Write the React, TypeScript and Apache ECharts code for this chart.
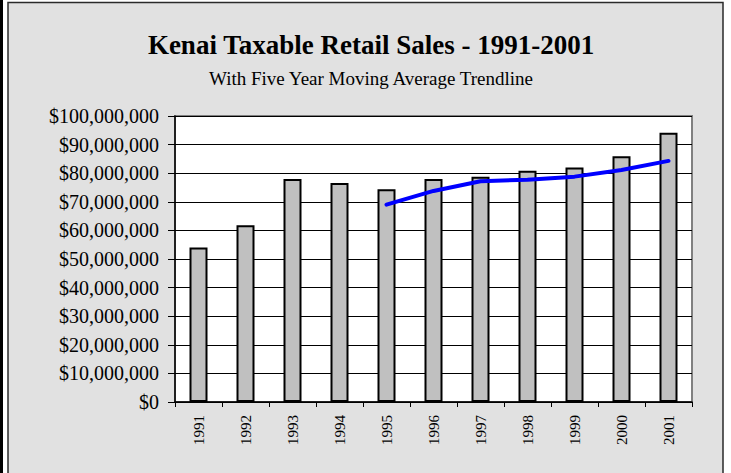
import React, { useEffect, useRef } from "react";
import * as echarts from "echarts";

const years = ["1991", "1992", "1993", "1994", "1995", "1996", "1997", "1998", "1999", "2000", "2001"];
const salesMillions = [54.0, 61.8, 78.0, 76.6, 74.4, 78.0, 78.8, 80.9, 82.0, 85.9, 94.1];
const movingAvgMillions = [null, null, null, null, 69.0, 73.8, 77.2, 77.7, 78.8, 81.1, 84.3];
const yMax = 100000000;
const yInterval = 10000000;
const titleText = "Kenai Taxable Retail Sales - 1991-2001";
const subtitleText = "With Five Year Moving Average Trendline";

const serif = "'Times New Roman', 'Liberation Serif', serif";

function fmtDollar(v: number): string {
  return "$" + Math.round(v).toString().replace(/\B(?=(\d{3})+(?!\d))/g, ",");
}

export default function App() {
  const ref = useRef<HTMLDivElement>(null);
  useEffect(() => {
    if (!ref.current) return;
    const chart = echarts.init(ref.current, null, { renderer: "svg" });
    chart.setOption({
      animation: false,
      backgroundColor: "#ffffff",
      graphic: [
        { type: "rect", z: -10, shape: { x: 0, y: 0, width: 3, height: 473 }, style: { fill: "#000000" } },
        {
          type: "rect",
          z: -10,
          shape: { x: 8, y: 2.5, width: 715, height: 480 },
          style: { fill: "#e1e1e1", stroke: "#2a2a2a", lineWidth: 1.5 },
        },
      ],
      title: [
        {
          text: titleText,
          left: 366,
          top: 26,
          textAlign: "center",
          textStyle: { fontFamily: serif, fontSize: 27, fontWeight: "bold", color: "#000" },
        },
        {
          text: subtitleText,
          left: 366,
          top: 64,
          textAlign: "center",
          textStyle: { fontFamily: serif, fontSize: 19, fontWeight: "normal", color: "#000" },
        },
      ],
      grid: {
        left: 175,
        right: 39,
        top: 116,
        bottom: 71,
        show: true,
        backgroundColor: "#ffffff",
        borderColor: "#808080",
        borderWidth: 2,
      },
      xAxis: {
        type: "category",
        data: years,
        boundaryGap: true,
        axisLine: { show: true, lineStyle: { color: "#000", width: 1.5 } },
        axisTick: { show: true, length: 5, inside: false, alignWithLabel: false, lineStyle: { color: "#000", width: 1 } },
        axisLabel: { rotate: 90, margin: 13, fontFamily: serif, fontSize: 15, color: "#000" },
        splitLine: { show: false },
      },
      yAxis: {
        type: "value",
        min: 0,
        max: yMax,
        interval: yInterval,
        axisLine: { show: true, lineStyle: { color: "#000", width: 1.5 } },
        axisTick: { show: true, length: 7, inside: false, lineStyle: { color: "#000", width: 1 } },
        axisLabel: { margin: 16, fontFamily: serif, fontSize: 20, color: "#000", formatter: (v: number) => fmtDollar(v) },
        splitLine: { show: true, lineStyle: { color: "#000", width: 1 } },
      },
      series: [
        {
          type: "bar",
          data: salesMillions.map((v) => v * 1e6),
          barWidth: 18,
          itemStyle: { color: "#c0c0c0", borderColor: "#000", borderWidth: 2 },
          z: 2,
        },
        {
          type: "line",
          data: movingAvgMillions.map((v) => (v == null ? null : v * 1e6)),
          showSymbol: false,
          symbol: "none",
          connectNulls: false,
          lineStyle: { color: "#0000ff", width: 4, cap: "round", join: "round" },
          z: 3,
        },
      ],
    });
    return () => chart.dispose();
  }, []);
  return <div ref={ref} style={{ position: "fixed", left: 0, top: 0, width: 731, height: 473 }} />;
}
